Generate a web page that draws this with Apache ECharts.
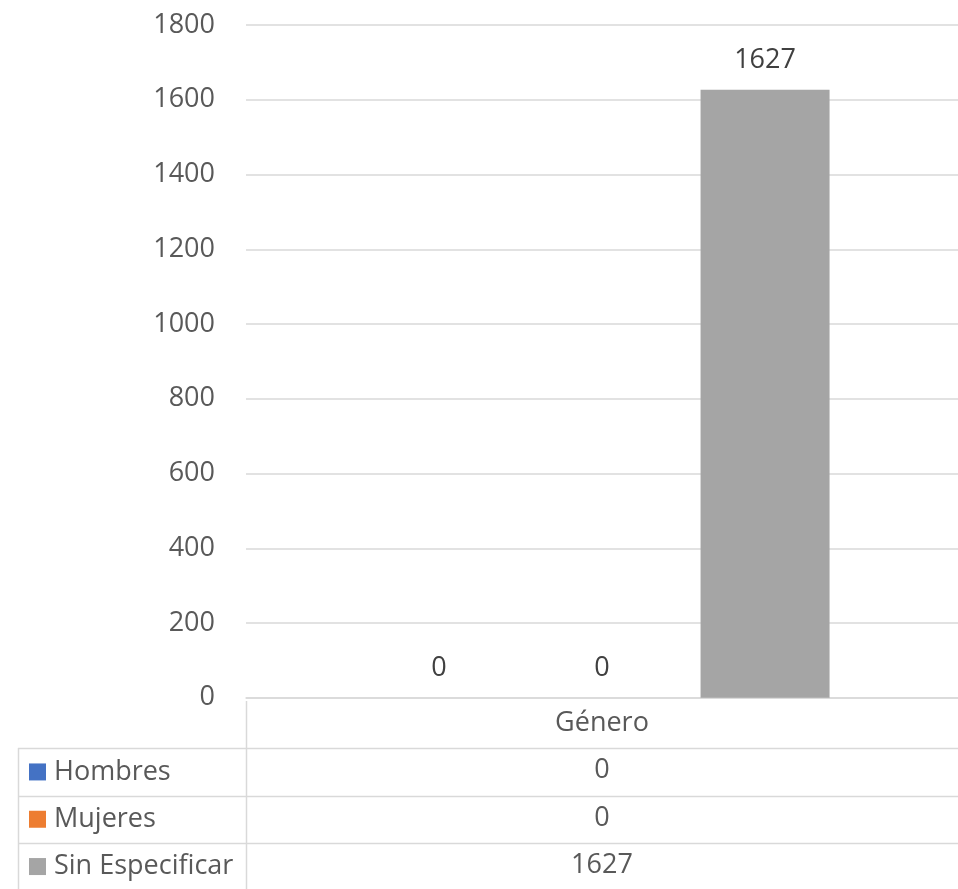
<!DOCTYPE html>
<html>
<head>
<meta charset="utf-8">
<script src="https://cdn.jsdelivr.net/npm/echarts@6/dist/echarts.min.js"></script>
<style>html,body{margin:0;padding:0;background:#fff;}#c{width:958px;height:889px;}</style>
</head>
<body>
<div id="c"></div>
<script>
const categories = ['Género'];
const seriesNames = ['Hombres', 'Mujeres', 'Sin Especificar'];
const hombres = [0];
const mujeres = [0];
const sinEspecificar = [1627];
const yMin = 0, yMax = 1800, yInterval = 200;

const colors = ['#4472C4', '#ED7D31', '#A5A5A5'];
const FONT = 'Open Sans';
const FS = 27;
const W = 958, H = 889;
const gridTop = 25, gridHeight = 676, gridLeft = 246, gridWidth = 734;
const axisY = gridTop + gridHeight;
const rowH = 47.3;
const tableLeft = 18;
const lineColor = '#D9D9D9';

const allSeries = [hombres, mujeres, sinEspecificar];

const chart = echarts.init(document.getElementById('c'));

const graphics = [];
for (let i = 1; i <= 3; i++) {
  const y = Math.round(axisY + rowH * i) + 0.5;
  graphics.push({type: 'line', shape: {x1: tableLeft, y1: y, x2: W, y2: y}, style: {stroke: lineColor, lineWidth: 1.5}, silent: true});
}
graphics.push({type: 'line', shape: {x1: gridLeft + 0.5, y1: axisY, x2: gridLeft + 0.5, y2: H}, style: {stroke: lineColor, lineWidth: 1.5}, silent: true});
graphics.push({type: 'line', shape: {x1: tableLeft + 0.5, y1: Math.round(axisY + rowH), x2: tableLeft + 0.5, y2: H}, style: {stroke: lineColor, lineWidth: 1.5}, silent: true});

chart.setOption({
  animation: false,
  color: colors,
  textStyle: {fontFamily: FONT},
  grid: {top: gridTop, height: gridHeight, left: gridLeft, width: gridWidth, containLabel: false},
  legend: {
    orient: 'vertical',
    left: 29,
    top: axisY + rowH * 1.5 - 15,
    padding: 0,
    itemGap: rowH - 30,
    itemWidth: 17,
    itemHeight: 17,
    icon: 'rect',
    data: seriesNames,
    textStyle: {fontFamily: FONT, fontSize: FS, color: '#595959', lineHeight: 30, padding: [0, 0, 0, 3]}
  },
  xAxis: {
    type: 'category',
    data: categories,
    axisLine: {show: true, lineStyle: {color: lineColor, width: 1.5}},
    axisTick: {show: false},
    axisLabel: {
      margin: 2,
      fontFamily: FONT,
      fontSize: FS,
      color: '#595959',
      lineHeight: rowH,
      formatter: function (v, idx) {
        return [v].concat(allSeries.map(s => String(s[idx]))).join('\n');
      }
    }
  },
  yAxis: {
    type: 'value',
    min: yMin, max: yMax, interval: yInterval,
    axisLine: {show: false},
    axisTick: {show: false},
    splitLine: {lineStyle: {color: lineColor, width: 1.5}},
    axisLabel: {margin: 31, fontFamily: FONT, fontSize: FS, color: '#595959', formatter: v => String(v)}
  },
  graphic: graphics,
  series: seriesNames.map((name, i) => ({
    name: name,
    type: 'bar',
    data: allSeries[i],
    barWidth: 129,
    barGap: '26.4%',
    label: {show: true, position: 'top', distance: 16, fontFamily: FONT, fontSize: FS, color: '#404040'}
  }))
});
</script>
</body>
</html>
